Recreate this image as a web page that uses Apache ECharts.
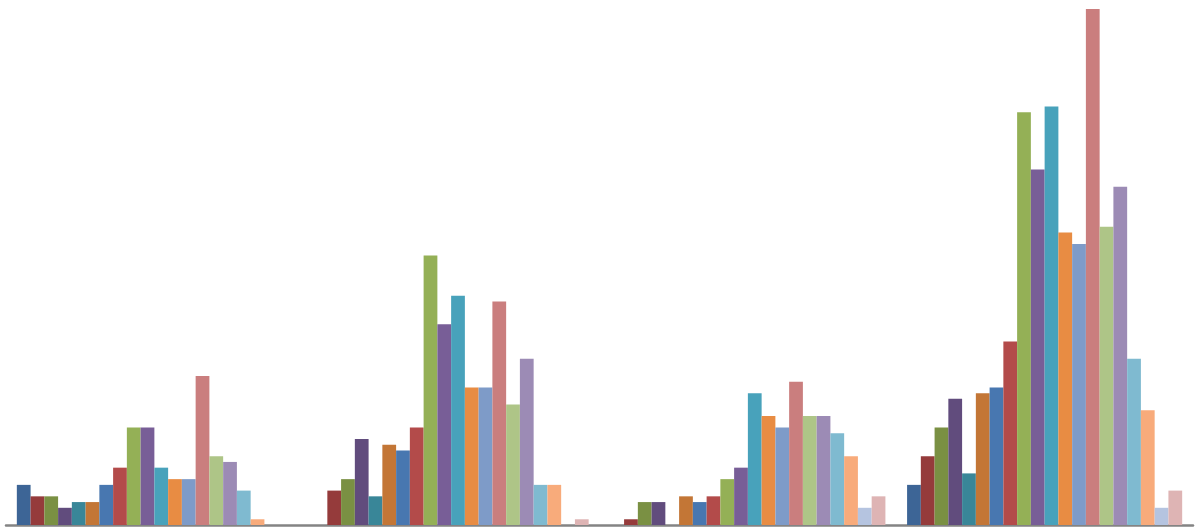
<!DOCTYPE html>
<html>
<head>
<meta charset="utf-8">
<script src="https://cdn.jsdelivr.net/npm/echarts@6/dist/echarts.min.js"></script>
<style>
  html, body { margin: 0; padding: 0; background: #ffffff; }
  #chart { width: 1199px; height: 527px; }
</style>
</head>
<body>
<div id="chart"></div>
<script>
const categories = ['A', 'B', 'C', 'D'];
const seriesNames = ['Series 1','Series 2','Series 3','Series 4','Series 5','Series 6','Series 7','Series 8','Series 9','Series 10',
                     'Series 11','Series 12','Series 13','Series 14','Series 15','Series 16','Series 17','Series 18','Series 19','Series 20'];
const s1  = [7, 0, 0, 7];
const s2  = [5, 6, 1, 12];
const s3  = [5, 8, 4, 17];
const s4  = [3, 15, 4, 22];
const s5  = [4, 5, 0, 9];
const s6  = [4, 14, 5, 23];
const s7  = [7, 13, 4, 24];
const s8  = [10, 17, 5, 32];
const s9  = [17, 47, 8, 72];
const s10 = [17, 35, 10, 62];
const s11 = [10, 40, 23, 73];
const s12 = [8, 24, 19, 51];
const s13 = [8, 24, 17, 49];
const s14 = [26, 39, 25, 90];
const s15 = [12, 21, 19, 52];
const s16 = [11, 29, 19, 59];
const s17 = [6, 7, 16, 29];
const s18 = [1, 7, 12, 20];
const s19 = [0, 0, 3, 3];
const s20 = [0, 1, 5, 6];
const seriesValues = [s1,s2,s3,s4,s5,s6,s7,s8,s9,s10,s11,s12,s13,s14,s15,s16,s17,s18,s19,s20];

const colors = ['#3d6596','#953b3b','#7a9043','#614c7d','#398698','#c37636','#4877b0','#b34b4a','#94b056','#785e97',
                '#48a2bb','#e88c43','#7e9bc8','#ca7e7e','#aec587','#9c8bb5','#7fbad0','#f8ab7b','#b5c4e0','#deb4b4'];

const chart = echarts.init(document.getElementById('chart'));
chart.setOption({
  animation: false,
  color: colors,
  grid: { left: 6, right: 6, top: 9, bottom: 2, containLabel: false },
  xAxis: {
    type: 'category',
    data: categories,
    axisLine: { show: true, lineStyle: { color: '#848484', width: 2.5 } },
    axisTick: { show: false },
    axisLabel: { show: false },
    splitLine: { show: false }
  },
  yAxis: {
    type: 'value',
    min: 0,
    max: 90,
    show: false,
    splitLine: { show: false }
  },
  series: seriesValues.map((vals, i) => ({
    name: seriesNames[i],
    type: 'bar',
    data: vals.map(v => v === 0 ? null : v),
    barGap: '0%',
    barCategoryGap: '7.3%',
    itemStyle: { borderWidth: 0 }
  }))
});
</script>
</body>
</html>
